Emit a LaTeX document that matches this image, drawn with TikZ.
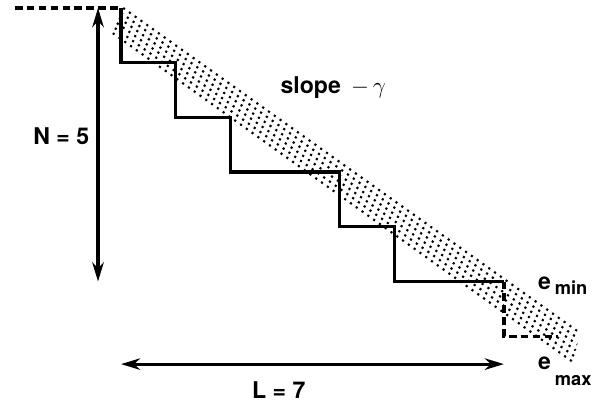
\documentclass[tikz,border=0pt]{standalone}
\usepackage{fontspec}
\setmainfont{TeX Gyre Heros}
\usetikzlibrary{arrows.meta}

\begin{document}
\begin{tikzpicture}[
        x=1cm, y=1cm,
        >={Stealth[length=10pt, width=6pt]},
        stair/.style={line width=1.7pt, line join=miter},
        guide/.style={line width=1.7pt, dash pattern=on 4pt off 2.2pt},
        dim/.style={<->, line width=1.6pt},
        band/.style={line width=1.1pt, dash pattern=on 1.1pt off 2.6pt},
        lbl/.style={inner sep=0pt, font=\bfseries\fontsize{12}{14}\selectfont},
    ]
    \useasboundingbox (-2.212,0.146) rectangle (8.848,-7.294);

    % Corners of the staircase
    \coordinate (S0) at (0,0);
    \coordinate (S1) at (0,-1);  \coordinate (S2) at (1,-1);
    \coordinate (S3) at (1,-2);  \coordinate (S4) at (2,-2);
    \coordinate (S5) at (2,-3);  \coordinate (S6) at (4,-3);
    \coordinate (S7) at (4,-4);  \coordinate (S8) at (5,-4);
    \coordinate (S9) at (5,-5);  \coordinate (S10) at (7,-5);
    \coordinate (T1) at (7,-6);  \coordinate (T2) at (7.99,-6);
    \coordinate (H0) at (-1.94,0);

    % Draw the band of parallel lines
    \foreach \k in {0,...,5}
        \draw[band] ({0.04-0.19*\k/5},{-0.46*\k/5}) -- ({8.39-0.13*\k/5},{-5.94-0.53*\k/5});

    % Draw the staircase and its dashed ends
    \draw[guide] (H0) -- (S0);
    \draw[stair] (S0) -- (S1) -- (S2) -- (S3) -- (S4) -- (S5) -- (S6)
        -- (S7) -- (S8) -- (S9) -- (S10);
    \draw[guide] (S10) -- (T1) -- (T2);

    % Dimension arrows
    \coordinate (Ntop) at (-0.42,0);
    \coordinate (Nbot) at (-0.42,-5);
    \coordinate (Lleft) at (0,-6.51);
    \coordinate (Lright) at (7,-6.51);
    \draw[dim] (Ntop) -- (Nbot);
    \draw[dim] (Lleft) -- (Lright);

    % Labels
    \node[lbl, anchor=base west] (nlabel) at (-1.61,-2.50) {N = 5};
    \node[lbl, anchor=base west] (llabel) at (2.39,-7.13) {L = 7};
    \node[lbl, anchor=base west] (slope) at (2.91,-1.57) {slope\, {\mdseries$-\,\gamma$}};
    \node[lbl, anchor=base west] (emin) at (7.62,-5.14)
        {e\,\raisebox{-2.6pt}{\fontsize{9.5}{11}\selectfont min}};
    \node[lbl, anchor=base west] (emax) at (7.62,-6.60)
        {e\,\raisebox{-8.8pt}{\fontsize{9.5}{11}\selectfont max}};
\end{tikzpicture}
\end{document}
